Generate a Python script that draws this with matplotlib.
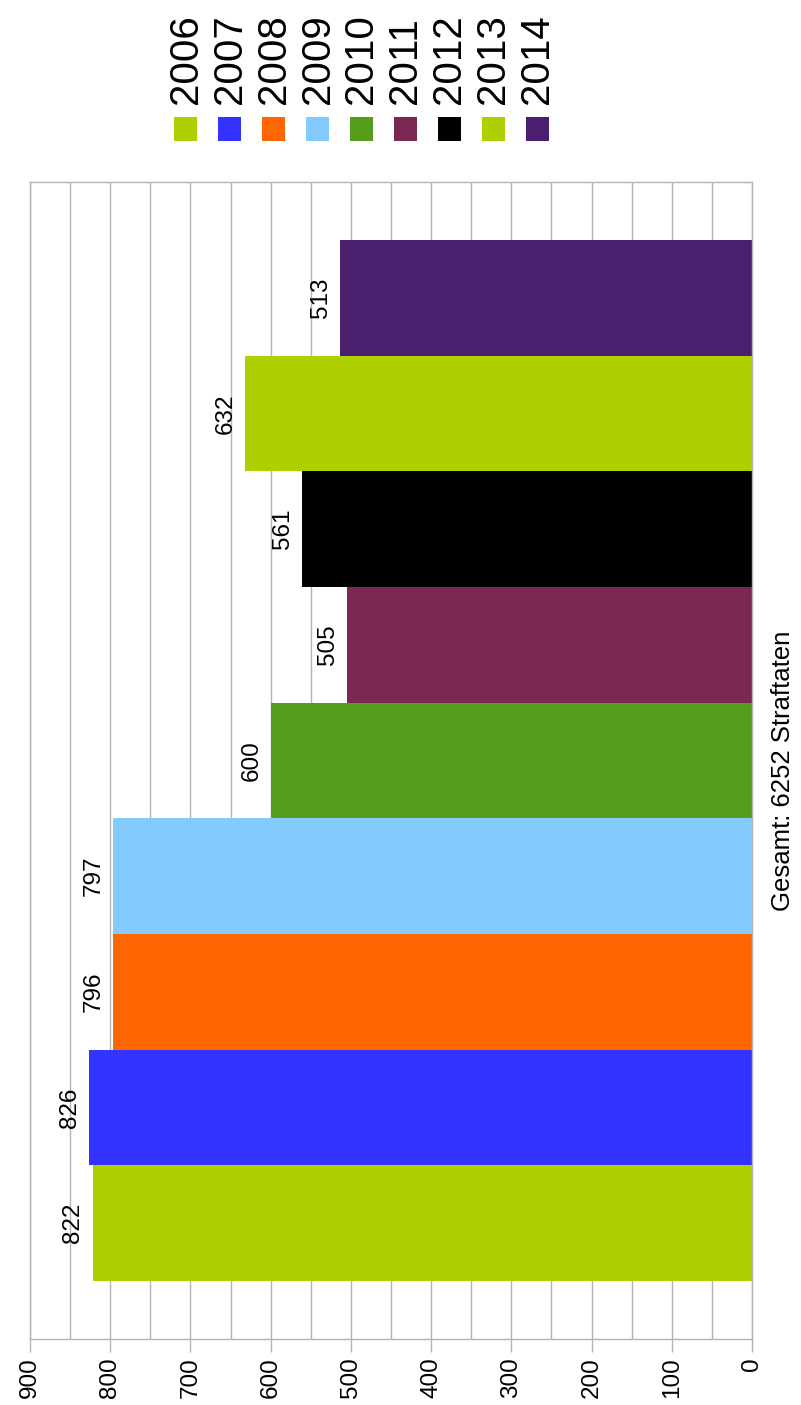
import matplotlib
matplotlib.use("Agg")
import matplotlib.pyplot as plt
from matplotlib.ticker import MultipleLocator

# Straftaten pro Jahr
years = ['2006', '2007', '2008', '2009', '2010', '2011', '2012', '2013', '2014']
cases = [822, 826, 796, 797, 600, 505, 561, 632, 513]
colors = ['#aecf00', '#3333ff', '#ff6600', '#83caff', '#579d1c',
          '#7a2754', '#000000', '#aecf00', '#4b1f6f']
value_ticks = list(range(0, 901, 100))
total_label = 'Gesamt: 6252 Straftaten'

plt.rcParams['font.family'] = ['Liberation Sans', 'DejaVu Sans']

W, H = 801, 1405
fig = plt.figure(figsize=(W / 100, H / 100), dpi=100)


def px_axes(left, top, right, bottom):
    # axes placed by pixel box, measured from the top-left corner
    return fig.add_axes([left / W, 1 - bottom / H, (right - left) / W, (bottom - top) / H])


# chart is laid out turned on its side: values run right to left
ax = px_axes(30, 182, 752, 1339)
pos = list(range(len(years)))
ax.barh(pos, cases, height=1.0, color=colors, zorder=2)
ax.set_xlim(900, 0)
ax.set_ylim(-1, len(years))

ax.set_xticks(value_ticks)
ax.xaxis.set_minor_locator(MultipleLocator(50))
ax.grid(axis='x', which='both', color='#b3b3b3', lw=1)
ax.set_axisbelow(True)
ax.tick_params(axis='x', which='major', length=9, width=1, color='#b3b3b3',
               pad=4, labelsize=17.5, labelrotation=90)
ax.tick_params(axis='x', which='minor', length=0)
ax.tick_params(axis='y', left=False, labelleft=False)
for s in ax.spines.values():
    s.set_color('#b3b3b3')
    s.set_linewidth(1)

for p, v in zip(pos, cases):
    ax.annotate(str(v), (v, p), xytext=(-6, 0), textcoords='offset points',
                rotation=90, ha='right', va='center', fontsize=17.5)

ax.text(1.043, 0.491, total_label, transform=ax.transAxes, rotation=90,
        ha='center', va='center', fontsize=18.5)

# legend row along the top
ax_leg = px_axes(142.1, 0, 580.9, 160)
ax_leg.set_xlim(-1, len(years))
ax_leg.set_ylim(160, 0)
ax_leg.axis('off')
ax_leg.scatter(pos, [129] * len(years), marker='s', s=275, c=colors, linewidths=0)
for p, y in zip(pos, years):
    ax_leg.text(p, 104, y, rotation=90, ha='center', va='bottom', fontsize=29)

fig.savefig('out.png', dpi=100)
